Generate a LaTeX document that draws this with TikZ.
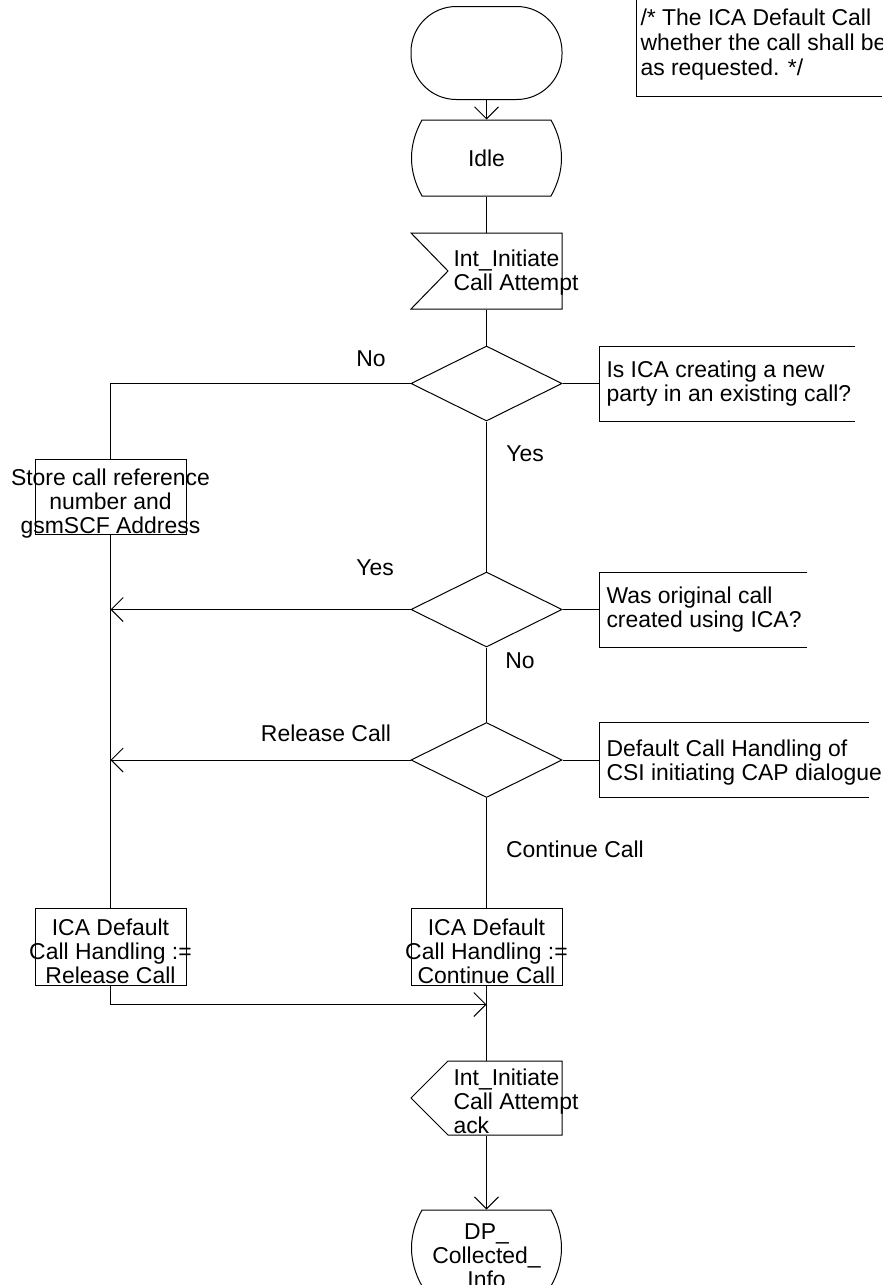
\documentclass[tikz,border=0pt]{standalone}
\usepackage{fontspec}
\setmainfont{Liberation Sans}
\usetikzlibrary{arrows.meta,shapes.geometric}
\begin{document}
\begin{tikzpicture}[x=0.75pt,y=-0.75pt,
  line width=0.75pt,
  every node/.style={font=\fontsize{17.2pt}{18pt}\selectfont},
  arr/.style={-{Straight Barb[length=9pt,width=18pt]}},
  frame/.style={draw=none,inner sep=0pt,minimum width=113.25pt,minimum height=57pt},
  boxnode/.style={draw,inner sep=0pt,minimum width=113.25pt,minimum height=56.25pt},
  dec/.style={draw,shape=diamond,inner sep=0pt,minimum width=113.25pt,minimum height=56.25pt},
  txtc/.style={inner sep=0pt,align=center,anchor=north},
  txtl/.style={inner sep=0pt,align=left,anchor=north west},
  lbl/.style={inner sep=0pt,anchor=base}
]
\useasboundingbox (0,0) rectangle (882,1285);
\clip (0,0) rectangle (882,1285);

% start
\node[draw,rounded corners=34pt,minimum width=113.25pt,minimum height=69.75pt,inner sep=0pt] (start) at (486.5,53) {};

% comment at top
\draw (636,0) -- (636,96.5) -- (882,96.5);
\node[txtl,font=\fontsize{17.2pt}{18.75pt}\selectfont] (note) at (640,8.5) {/* The ICA Default Call\\whether the call shall be\\as requested. */};

% Idle state
\node[frame] (idle) at (486.5,158) {Idle};
\draw (422,120) -- (551,120) .. controls (565,145) and (565,171) .. (551,196) -- (422,196) .. controls (408,171) and (408,145) .. (422,120) -- cycle;
\draw[arr] (start.south) -- (idle.north);

% input signal
\node[frame] (insig) at (486.5,271) {};
\draw (411,233) -- (562,233) -- (562,309) -- (411,309) -- (448,271) -- cycle;
\node[txtl] (insigt) at (453,249.5) {Int\_Initiate\\Call Attempt};
\draw (idle.south) -- (insig.north);

% decision 1
\node[dec] (d1) at (486.5,383.5) {};
\draw (insig.south) -- (d1.north);
\coordinate (c1) at (599,383.5);
\draw (d1.east) -- (c1);
\draw (855,346) -- (599,346) -- (599,421) -- (855,421);
\node[txtl] (c1t) at (606,360.5) {Is ICA creating a new\\party in an existing call?};
\node[lbl] (no1) at (371,366.5) {No};
\node[lbl] (yes1) at (525,461.5) {Yes};

% store box
\node[boxnode] (store) at (110.5,496.5) {};
\node[txtc] (storet) at (110.5,468.5) {Store call reference\\number and\\gsmSCF Address};
\draw (d1.west) -| (store.north);

% decision 2
\node[dec] (d2) at (486.5,609.5) {};
\draw (d1.south) -- (d2.north);
\coordinate (c2) at (599,609.5);
\draw (d2.east) -- (c2);
\draw (807,572) -- (599,572) -- (599,647) -- (807,647);
\node[txtl] (c2t) at (606,586.5) {Was original call\\created using ICA?};
\node[lbl] (yes2) at (375,575.5) {Yes};
\node[lbl] (no2) at (520,668.5) {No};
\draw[arr] (d2.west) -- (d2.west -| store.south);

% decision 3
\node[dec] (d3) at (486.5,760) {};
\draw (d2.south) -- (d3.north);
\coordinate (c3) at (599,760);
\draw (d3.east) -- (c3);
\draw (869,722) -- (599,722) -- (599,797) -- (869,797);
\node[txtl] (c3t) at (606,739.5) {Default Call Handling of\\CSI initiating CAP dialogue};
\node[lbl] (rel1) at (326,741.5) {Release Call};
\node[lbl] (cont1) at (575,857.5) {Continue Call};
\draw[arr] (d3.west) -- (d3.west -| store.south);

% task boxes
\node[boxnode,minimum height=57.75pt] (rel) at (110.5,946.5) {};
\node[txtc] (relt) at (110.5,918.5) {ICA Default\\Call Handling :=\\Release Call};
\node[boxnode,minimum height=57.75pt] (cont) at (486.5,946.5) {};
\node[txtc] (contt) at (486.5,918.5) {ICA Default\\Call Handling :=\\Continue Call};
\draw (store.south) -- (rel.north);
\draw (d3.south) -- (cont.north);

% output signal
\node[frame,minimum height=55.5pt] (outsig) at (486.5,1098) {};
\draw (448,1061) -- (562,1061) -- (562,1135) -- (448,1135) -- (411,1098) -- cycle;
\node[txtl] (outsigt) at (453,1068.5) {Int\_Initiate\\Call Attempt\\ack};
\coordinate (m) at (486.5,1004.5);
\draw[arr] (rel.south) |- (m);
\draw (cont.south) -- (outsig.north);

% DP state
\node[frame] (dp) at (486.5,1248) {};
\draw (422,1210) -- (551,1210) .. controls (565,1235) and (565,1261) .. (551,1286) -- (422,1286) .. controls (408,1261) and (408,1235) .. (422,1210) -- cycle;
\node[txtc] (dpt) at (486.5,1223.5) {DP\_\\Collected\_\\Info};
\draw[arr] (outsig.south) -- (dp.north);
\end{tikzpicture}
\end{document}
